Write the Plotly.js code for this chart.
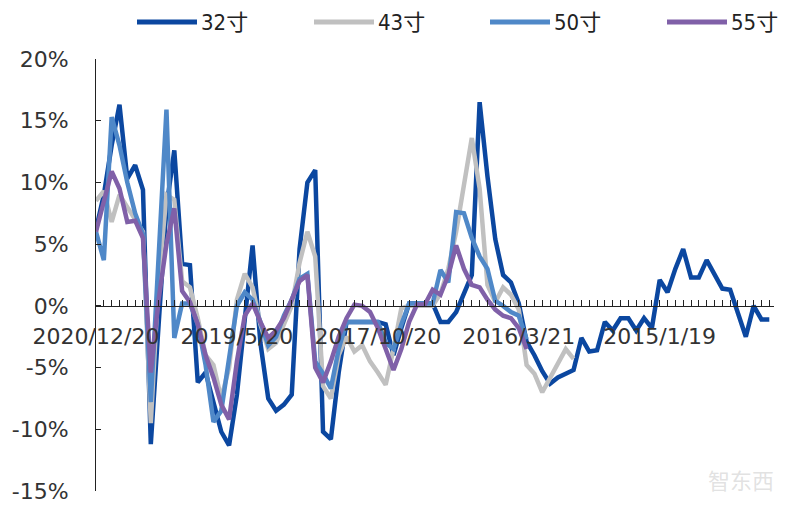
<!DOCTYPE html>
<html>
<head>
<meta charset="utf-8">
<script src="https://cdn.plot.ly/plotly-3.0.1.min.js"></script>
<style>html,body{margin:0;padding:0;background:#fff;}#chart{width:800px;height:509px;}</style>
</head>
<body>
<div id="chart"></div>
<script>
// Series names
const seriesNames = ['32寸', '43寸', '50寸', '55寸'];
// Tick labels on the category axis and where they sit (category index)
const tickLabels = ['2020/12/20', '2019/5/20', '2017/10/20', '2016/3/21', '2015/1/19'];
const tickLabelIndex = [0, 18, 36, 54, 72];
// Value axis ticks
const yTickValues = [-15, -10, -5, 0, 5, 10, 15, 20];
const yTickLabels = ['-15%', '-10%', '-5%', '0%', '5%', '10%', '15%', '20%'];
// Year-on-year change, %
const s32 = [6.2,9.0,13.0,16.3,10.3,11.4,9.4,-11.2,-1.5,8.0,
  12.6,3.4,3.3,-6.2,-5.4,-7.8,-10.2,-11.3,-7.2,-1.1,
  4.9,-3.0,-7.5,-8.5,-8.0,-7.2,4.6,10.0,11.0,-10.2,
  -10.8,-5.4,-1.3,-1.3,-1.3,-1.3,-1.3,-1.5,-4.0,-1.8,
  0.2,0.2,0.2,0.2,-1.3,-1.3,-0.5,1.0,2.5,16.5,
  10.5,5.4,2.5,1.9,0.2,-2.9,-4.0,-5.3,-6.3,-5.8,
  -5.5,-5.2,-2.6,-3.7,-3.6,-1.3,-2.0,-1.0,-1.0,-2.0,
  -1.0,-1.8,2.1,1.1,3.0,4.6,2.3,2.3,3.7,2.5,
  1.4,1.3,-0.6,-2.5,0.0,-1.1,-1.1];
const s43 = [8.5,9.3,6.8,9.0,8.0,7.0,6.0,-9.5,2.0,9.0,
  8.6,2.0,1.5,-1.0,-4.0,-4.8,-7.5,-5.0,0.5,2.6,
  1.5,-1.5,-3.5,-3.0,-1.5,0.0,3.5,6.0,4.0,-6.5,
  -7.5,-4.0,-2.5,-3.7,-3.2,-4.5,-5.4,-6.4,-3.5,-0.2,
  0.0,0.0,0.0,0.0,1.0,3.0,6.0,10.0,13.6,9.5,
  1.7,0.3,1.5,0.9,-0.3,-4.8,-5.5,-7.0,-5.8,-4.6,
  -3.5,-4.3];
const s50 = [6.0,3.7,15.3,13.0,10.0,7.5,5.8,-7.8,4.0,15.9,
  -2.6,0.2,0.2,-1.5,-4.8,-9.4,-8.5,-4.0,0.0,1.1,
  0.5,-1.3,-3.2,-2.5,-0.8,0.5,2.2,2.6,-4.5,-5.5,
  -6.7,-3.5,-1.3,-1.3,-1.3,-1.3,-1.3,-3.0,-3.5,-1.5,
  0.2,0.2,0.2,0.2,2.9,1.9,7.6,7.5,5.5,4.0,
  3.0,0.4,0.0,-0.5,-0.8,-2.7];
const s55 = [6.0,8.5,10.9,9.5,6.8,6.9,5.5,-5.4,0.5,5.0,
  7.9,1.2,0.3,-1.5,-4.0,-5.8,-8.0,-9.2,-4.5,-0.8,
  0.2,-1.3,-2.6,-2.0,-1.0,0.5,2.0,2.5,-5.0,-6.2,
  -4.5,-2.5,-1.0,0.1,0.0,-0.5,-1.8,-3.5,-5.2,-3.5,
  -1.3,0.1,0.1,1.3,0.9,2.5,4.9,3.0,1.7,1.5,
  0.5,-0.3,-0.8,-1.0,-1.8,-3.5];

const seriesValues = [s32, s43, s50, s55];
const colors = ['#0B47A0', '#C0C0C0', '#4F88C8', '#8060A8'];
const nCat = s32.length;
const allIdx = Array.from({length: nCat}, (_, i) => i);
const allText = allIdx.map(i => {
  const k = tickLabelIndex.indexOf(i);
  return k >= 0 ? tickLabels[k] : '';
});

const traces = seriesValues.map((vals, k) => ({
  type: 'scatter',
  mode: 'lines',
  name: seriesNames[k],
  x: vals.map((_, i) => i),
  y: vals,
  line: {color: colors[k], width: 4.5},
  hoverinfo: 'skip',
  showlegend: false
}));

// page geometry (pixels)
const W = 800, H = 509;
const M = {l: 96, r: 26, t: 59, b: 18};
const pw = W - M.l - M.r, ph = H - M.t - M.b;
const px2x = px => (px - M.l) / pw;
const py2y = py => (H - M.b - py) / ph;

// hand-made legend across the top
const legendLineStart = [137, 314, 490, 667];
const legendLineLen = 60;
const legendY = 22;
const shapes = [];
const annotations = [];
seriesNames.forEach((name, k) => {
  shapes.push({
    type: 'line', xref: 'paper', yref: 'paper',
    x0: px2x(legendLineStart[k]), x1: px2x(legendLineStart[k] + legendLineLen),
    y0: py2y(legendY), y1: py2y(legendY),
    line: {color: colors[k], width: 5}
  });
  annotations.push({
    text: name, xref: 'paper', yref: 'paper',
    x: px2x(legendLineStart[k] + legendLineLen + 2), y: py2y(legendY),
    xanchor: 'left', yanchor: 'middle', showarrow: false,
    font: {family: 'Liberation Sans Narrow, DejaVu Sans Condensed, Noto Sans CJK SC, sans-serif', size: 22, color: '#222'}
  });
});
annotations.push({
  text: '智东西', xref: 'paper', yref: 'paper', x: px2x(776), y: py2y(497),
  xanchor: 'right', yanchor: 'bottom', showarrow: false,
  font: {family: 'Noto Sans CJK SC, sans-serif', size: 22, color: 'rgba(190,190,190,0.45)'}
});

const yMin = -15, yMax = 20;
const layout = {
  width: W, height: H,
  margin: M,
  paper_bgcolor: '#fff', plot_bgcolor: '#fff',
  font: {family: 'DejaVu Sans, Verdana, sans-serif', size: 22, color: '#333'},
  showlegend: false,
  xaxis: {
    type: 'linear',
    range: [0, 86.6],
    anchor: 'free', position: (0 - yMin) / (yMax - yMin),
    showgrid: false, zeroline: false,
    showline: true, linecolor: '#222', linewidth: 1,
    ticks: 'inside', ticklen: 6, tickwidth: 1, tickcolor: '#222',
    tickmode: 'array', tickvals: allIdx, ticktext: allText,
    ticklabelstandoff: 11,
    tickfont: {family: 'DejaVu Sans, Verdana, sans-serif', size: 22, color: '#333'},
    fixedrange: true
  },
  yaxis: {
    range: [yMin, yMax],
    tickmode: 'array', tickvals: yTickValues, ticktext: yTickLabels,
    showgrid: false, zeroline: false,
    showline: true, linecolor: '#222', linewidth: 1,
    ticks: 'inside', ticklen: 5, tickcolor: '#222',
    ticklabelstandoff: 22,
    tickfont: {family: 'DejaVu Sans, Verdana, sans-serif', size: 22, color: '#333'},
    fixedrange: true
  },
  shapes: shapes,
  annotations: annotations
};

Plotly.newPlot('chart', traces, layout, {displayModeBar: false, staticPlot: true});
</script>
</body>
</html>
